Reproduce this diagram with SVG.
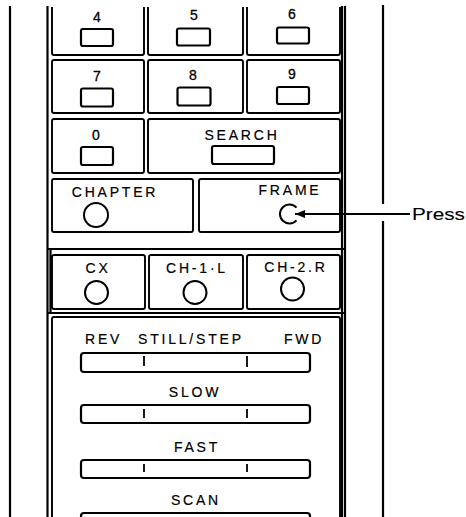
<svg xmlns="http://www.w3.org/2000/svg" width="466" height="517" viewBox="0 0 466 517">
<style>
  .frame { fill: none; stroke: #000; stroke-width: 2.2; }
  .box { fill: none; stroke: #000; stroke-width: 1.9; }
  .key { fill: #fff; stroke: #000; stroke-width: 2.2; }
  .knob { fill: #fff; stroke: #000; stroke-width: 2; }
  .tick { stroke: #000; stroke-width: 1.8; }
  .lbl { font-family: "Liberation Sans", Arial, sans-serif; font-size: 14px; letter-spacing: 2.8px; fill: #000; stroke: #000; stroke-width: 0.2; text-anchor: middle; }
  .dig { font-family: "Liberation Sans", Arial, sans-serif; font-size: 14px; fill: #000; stroke: #000; stroke-width: 0.3; text-anchor: middle; }
  .note { font-family: "Liberation Sans", Arial, sans-serif; font-size: 16.5px; fill: #000; stroke: #000; stroke-width: 0.1; }
</style>
<defs>
  <marker id="ah" viewBox="0 0 10 8" refX="10" refY="4" markerWidth="10" markerHeight="8" markerUnits="userSpaceOnUse" orient="auto">
    <path d="M0,0 L10,4 L0,8 Z" fill="#000"/>
  </marker>
</defs>
<rect width="466" height="517" fill="#fff"/>

<g id="panel-frame">
  <line class="frame" x1="10" y1="6" x2="10" y2="517"/>
  <line class="frame" x1="47.5" y1="6" x2="47.5" y2="517"/>
  <line class="frame" x1="342" y1="6" x2="342" y2="517" stroke-width="1.6"/>
  <line class="frame" x1="345" y1="6" x2="345" y2="517" stroke-width="1.6"/>
  <line class="frame" x1="383" y1="5" x2="383" y2="204" stroke-width="2.6"/>
  <line class="frame" x1="383" y1="221" x2="383" y2="517" stroke-width="2.6"/>
  <line class="frame" x1="47" y1="249" x2="345" y2="249" stroke-width="2"/>
  <line class="frame" x1="47" y1="313" x2="345" y2="313" stroke-width="2"/>
  <line class="frame" x1="50.5" y1="249" x2="50.5" y2="313" stroke-width="1.4"/>
</g>

<g id="key-4">
  <path class="box" d="M52,7 V53 Q52,55 54,55 H142 Q144,55 144,53 V7"/>
  <text class="dig" x="97" y="22">4</text>
  <rect class="key" x="81" y="29" width="32" height="17" rx="2"/>
</g>
<g id="key-5">
  <path class="box" d="M148,7 V53 Q148,55 150,55 H241 Q243,55 243,53 V7"/>
  <text class="dig" x="194" y="20">5</text>
  <rect class="key" x="177" y="28.5" width="33" height="17" rx="2"/>
</g>
<g id="key-6">
  <path class="box" d="M247,7 V53 Q247,55 249,55 H338 Q340,55 340,53 V7"/>
  <text class="dig" x="292" y="19">6</text>
  <rect class="key" x="277" y="27.5" width="32" height="16" rx="2"/>
</g>

<g id="key-7">
  <rect class="box" x="52" y="60" width="92" height="53" rx="2"/>
  <text class="dig" x="97" y="81">7</text>
  <rect class="key" x="81" y="88.5" width="32" height="18" rx="2"/>
</g>
<g id="key-8">
  <rect class="box" x="148" y="60" width="95" height="53" rx="2"/>
  <text class="dig" x="193" y="80">8</text>
  <rect class="key" x="177.5" y="87.5" width="33" height="18" rx="2"/>
</g>
<g id="key-9">
  <rect class="box" x="247" y="60" width="93" height="53" rx="2"/>
  <text class="dig" x="292" y="79">9</text>
  <rect class="key" x="277" y="87" width="32" height="17" rx="2"/>
</g>

<g id="key-0">
  <rect class="box" x="52" y="119" width="92" height="54" rx="2"/>
  <text class="dig" x="96" y="140">0</text>
  <rect class="key" x="81" y="147" width="32" height="18" rx="2"/>
</g>
<g id="search">
  <rect class="box" x="148" y="119" width="192" height="54" rx="2"/>
  <text class="lbl" x="242" y="140">SEARCH</text>
  <rect class="key" x="212" y="146" width="62" height="18" rx="2"/>
</g>

<g id="chapter">
  <rect class="box" x="52" y="179" width="141" height="53" rx="2"/>
  <text class="lbl" x="115" y="197">CHAPTER</text>
  <circle class="knob" cx="96" cy="215" r="12"/>
</g>
<g id="frame">
  <rect class="box" x="199" y="179" width="141" height="53" rx="2"/>
  <text class="lbl" x="290" y="195">FRAME</text>
  <path class="knob" fill="none" d="M296.5,207.6 A9.5,9.5 0 1 0 296.5,220.4"/>
</g>

<g id="cx">
  <rect class="box" x="52" y="255" width="93" height="54" rx="2"/>
  <text class="lbl" x="98" y="273">CX</text>
  <circle class="knob" cx="96.5" cy="292.5" r="11.5"/>
</g>
<g id="ch1">
  <rect class="box" x="149" y="255" width="94" height="54" rx="2"/>
  <text class="lbl" x="197" y="273">CH-1·L</text>
  <circle class="knob" cx="195" cy="292.5" r="11.5"/>
</g>
<g id="ch2">
  <rect class="box" x="247" y="255" width="93" height="54" rx="2"/>
  <text class="lbl" x="296" y="272">CH-2.R</text>
  <circle class="knob" cx="292.5" cy="289" r="11.5"/>
</g>

<g id="sliders">
  <rect class="box" x="52" y="317" width="288" height="230" rx="2"/>
  <text class="lbl" y="344" style="text-anchor:start"><tspan x="85">REV</tspan><tspan x="138">STILL/STEP</tspan><tspan x="284">FWD</tspan></text>
  <rect class="key" x="81" y="353" width="229" height="19" rx="3"/>
  <line class="tick" x1="144" y1="356" x2="144" y2="366"/>
  <line class="tick" x1="247" y1="356" x2="247" y2="367"/>

  <text class="lbl" x="195" y="397">SLOW</text>
  <rect class="key" x="81" y="405" width="229" height="18" rx="3"/>
  <line class="tick" x1="144" y1="409" x2="144" y2="418"/>
  <line class="tick" x1="247" y1="409" x2="247" y2="418"/>

  <text class="lbl" x="197" y="452">FAST</text>
  <rect class="key" x="81" y="460" width="229" height="18" rx="3"/>
  <line class="tick" x1="144" y1="464" x2="144" y2="472"/>
  <line class="tick" x1="247" y1="464" x2="247" y2="472"/>

  <text class="lbl" x="196" y="505">SCAN</text>
  <rect class="key" x="81" y="513" width="229" height="20" rx="3"/>
</g>

<g id="connectors">
  <line x1="410" y1="214" x2="295" y2="214" stroke="#000" stroke-width="2" marker-end="url(#ah)"/>
</g>
<g id="press-label">
  <text class="note" x="412" y="219.5" textLength="53" lengthAdjust="spacingAndGlyphs">Press</text>
</g>
</svg>
